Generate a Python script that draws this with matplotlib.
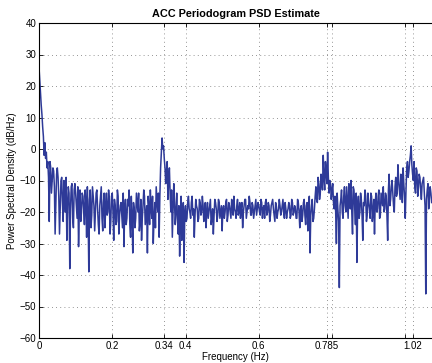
from matplotlib import pyplot as plt
import numpy as np

plt.rcParams['font.family'] = ['Liberation Sans', 'DejaVu Sans']

# PSD estimate (dB/Hz) in 0.1 Hz chunks, 0.004 Hz apart
psd_000 = [26, 18, 11, 4, 2, -1, -4, -23, -6, -10, -7, -27, -8, -9, -27, -10,
           -17, -10, -20, -29, -12, -38, -12, -22, -13]
psd_010 = [-14, -22, -31, -13, -20, -15, -24, -17, -12, -39, -13, -21, -15, -26,
           -14, -19, -27, -15, -22, -17, -25, -14, -20, -16, -23]
psd_020 = [-14, -29, -18, -23, -15, -21, -17, -25, -31, -16, -22, -18, -24, -15,
           -33, -19, -22, -17, -14, -23, -29, -18, -15, -21, -33]
psd_030 = [-18, -13, -22, -30, -17, -12, -20, -28, -6, 3.5, 1, -6, -7, -16, -6,
           -20, -28, -11, -24, -14, -27, -34, -15, -25, -36]
psd_040 = [-18, -22, -15, -20, -17, -21, -28, -16, -19, -22, -17, -20, -18, -21,
           -25, -17, -20, -16, -22, -27, -16, -19, -21, -17, -20]
psd_050 = [-26, -18, -20, -16, -21, -18, -22, -17, -15, -20, -18, -21, -17, -19,
           -25, -18, -16, -20, -19, -17, -21, -18, -20, -16, -19]
psd_060 = [-18, -21, -17, -19, -22, -16, -20, -18, -21, -17, -19, -23, -18, -20,
           -16, -21, -18, -20, -17, -22, -19, -18, -21, -17, -20]
psd_070 = [-19, -22, -17, -25, -18, -21, -16, -24, -17, -20, -33, -18, -23, -19,
           -12, -17, -11, -14, -10, -2, -13, -7, -1, -14, -11]
psd_080 = [-13, -17, -15, -30, -19, -44, -16, -20, -15, -18, -12, -22, -14, -10,
           -27, -13, -24, -36, -15, -20, -16, -29, -18, -15, -21]
psd_090 = [-17, -22, -15, -20, -27, -14, -19, -13, -21, -16, -12, -19, -15, -29,
           -8, -16, -10, -18, -12, -15, -5, -13, -8, -17, -11]
psd_100 = [-22, -6, -9, -4, 1, -8, -4, -14, -7, -12, -9, -16, -10, -14, -46,
           -13, -19, -12, -17]

# the bins in between (0.002 Hz past each bin above)
mid_000 = [22, 14, 7, -2, -3, -6, -9, -4, -14, -6, -12, -17, -6, -15, -19, -9,
           -23, -13, -9, -18, -14, -19, -11, -25, -11]
mid_010 = [-18, -12, -20, -23, -14, -19, -13, -28, -20, -16, -25, -12, -18, -20,
           -13, -24, -18, -12, -26, -14, -19, -21, -13, -27, -15]
mid_020 = [-20, -16, -24, -13, -27, -18, -21, -14, -19, -24, -16, -13, -28, -21,
           -17, -25, -14, -20, -26, -16, -22, -13, -24, -18, -15]
mid_030 = [-24, -19, -15, -22, -25, -16, -14, -15, -1, 0, -3, -11, -4, -10, -14,
           -13, -19, -17, -20, -22, -18, -23, -29, -17, -20]
mid_040 = [-23, -17, -19, -22, -15, -19, -21, -18, -23, -16, -21, -15, -23, -17,
           -20, -22, -18, -24, -19, -21, -17, -23, -16, -22, -18]
mid_050 = [-19, -22, -17, -23, -17, -20, -16, -21, -19, -22, -16, -20, -22, -17,
           -20, -16, -22, -18, -15, -21, -17, -22, -18, -21, -17]
mid_060 = [-20, -16, -22, -18, -17, -21, -17, -23, -18, -16, -21, -17, -22, -19,
           -18, -20, -16, -22, -19, -20, -17, -22, -16, -21, -18]
mid_070 = [-22, -16, -20, -19, -23, -17, -21, -18, -26, -15, -21, -16, -22, -15,
           -16, -9, -16, -8, -13, -9, -4, -11, -9, -10, -16]
mid_080 = [-11, -19, -20, -14, -23, -18, -13, -22, -12, -20, -17, -11, -19, -20,
           -12, -19, -14, -18, -22, -14, -21, -17, -13, -23, -14]
mid_090 = [-19, -14, -23, -16, -17, -20, -15, -22, -14, -18, -20, -14, -21, -13,
           -18, -12, -14, -20, -9, -14, -10, -16, -11, -6, -15]
mid_100 = [-13, -4, -7, -2, -5, -10, -12, -6, -15, -8, -13, -11, -9, -18, -16,
           -11, -15, -14]

psd_a = np.array(psd_000 + psd_010 + psd_020 + psd_030 + psd_040 + psd_050 +
                 psd_060 + psd_070 + psd_080 + psd_090 + psd_100)
psd_b = np.array(mid_000 + mid_010 + mid_020 + mid_030 + mid_040 + mid_050 +
                 mid_060 + mid_070 + mid_080 + mid_090 + mid_100)
freq_a = np.arange(len(psd_a)) * 0.004
freq_b = np.arange(len(psd_b)) * 0.004 + 0.002

freq = np.concatenate([freq_a, freq_b])
psd = np.concatenate([psd_a, psd_b])
order = np.argsort(freq)
freq, psd = freq[order], psd[order]

xt = [0, 0.2, 0.34, 0.4, 0.6, 0.785, 0.8, 1.0, 1.02]
xt_lab = ['0', '0.2', '0.34', '0.4', '0.6', '0.785', '', '', '1.02']
yt = np.arange(-60, 41, 10)

fig = plt.figure(figsize=(4.32, 3.63), dpi=100)
ax = fig.add_axes([39 / 432, 25 / 363, 1 - 39 / 432, 315 / 363])

ax.plot(freq, psd, color='#2E3A98', linewidth=1.1)

ax.set_xlim(0, 1.073)
ax.set_ylim(-60, 40)
ax.set_xticks(xt)
ax.set_xticklabels(xt_lab)
ax.set_yticks(yt)
ax.grid(True, color='0.45', linestyle=(0, (1, 4)), linewidth=0.6)

ax.spines['right'].set_visible(False)
for s in ['left', 'bottom', 'top']:
    ax.spines[s].set_linewidth(0.8)
ax.tick_params(direction='in', length=3, width=0.6, labelsize=7, top=True,
               pad=2)

ax.set_xlabel('Frequency (Hz)', fontsize=7, labelpad=1)
ax.set_ylabel('Power Spectral Density (dB/Hz)', fontsize=7)
ax.yaxis.set_label_coords(-0.056, 0.5)
ax.set_title('ACC Periodogram PSD Estimate', fontsize=7.8, fontweight='bold',
             pad=4)

fig.savefig('out.png', dpi=100)
